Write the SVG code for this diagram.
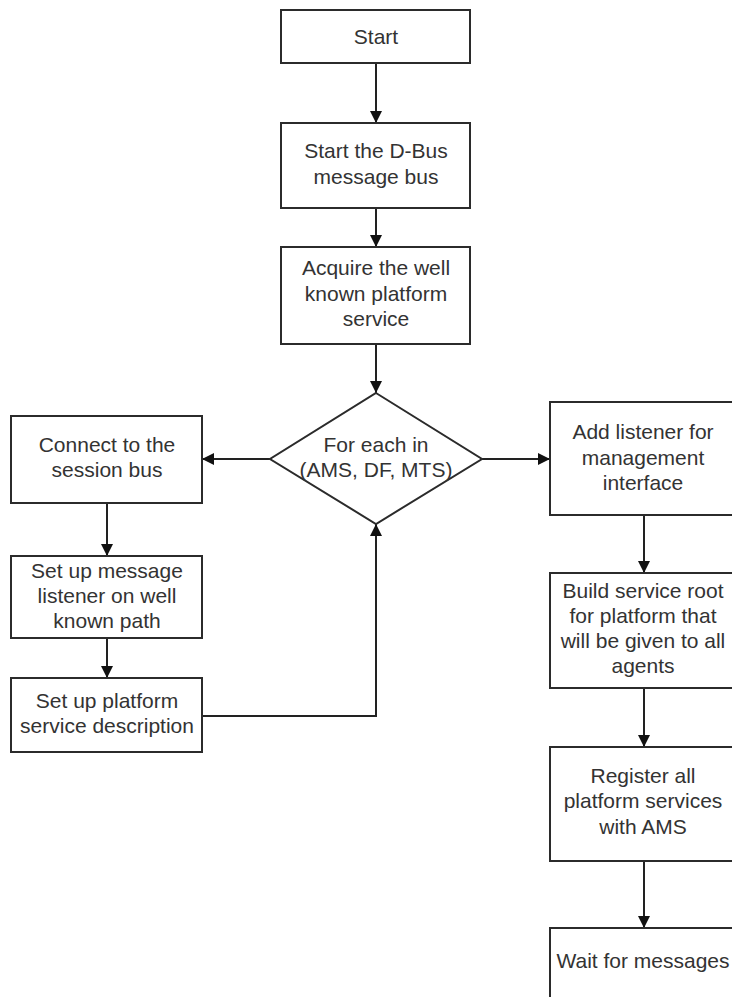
<svg xmlns="http://www.w3.org/2000/svg" width="732" height="997" viewBox="0 0 732 997">
  <style>
    .box { fill: #ffffff; stroke: #2b2b2b; stroke-width: 2; }
    .lbl { font-family: "Liberation Sans", Arial, sans-serif; font-size: 21px; fill: #333333; text-anchor: middle; }
    .edge { fill: none; stroke: #222222; stroke-width: 2; }
  </style>
  <defs>
    <marker id="arrow" markerUnits="userSpaceOnUse" markerWidth="13" markerHeight="13" refX="12" refY="6" orient="auto">
      <path d="M0,0 L12,6 L0,12 Z" fill="#111111"/>
    </marker>
  </defs>
  <rect width="732" height="997" fill="#ffffff"/>

  <g id="connectors">
    <path class="edge" d="M376,63 L376,123" marker-end="url(#arrow)"/>
    <path class="edge" d="M376,208 L376,247" marker-end="url(#arrow)"/>
    <path class="edge" d="M376,344 L376,393" marker-end="url(#arrow)"/>
    <path class="edge" d="M270,459 L202,459" marker-end="url(#arrow)"/>
    <path class="edge" d="M482,459 L550,459" marker-end="url(#arrow)"/>
    <path class="edge" d="M107,503 L107,556" marker-end="url(#arrow)"/>
    <path class="edge" d="M107,638 L107,678" marker-end="url(#arrow)"/>
    <path class="edge" d="M202,716 L376,716 L376,524" marker-end="url(#arrow)"/>
    <path class="edge" d="M644,515 L644,573" marker-end="url(#arrow)"/>
    <path class="edge" d="M644,688 L644,747" marker-end="url(#arrow)"/>
    <path class="edge" d="M644,861 L644,928" marker-end="url(#arrow)"/>
  </g>

  <g id="start">
    <rect class="box" x="281" y="10" width="189" height="53"/>
    <text class="lbl" x="376" y="44">Start</text>
  </g>

  <g id="start-dbus">
    <rect class="box" x="281" y="123" width="189" height="85"/>
    <text class="lbl" x="376" y="158">Start the D-Bus</text>
    <text class="lbl" x="376" y="184">message bus</text>
  </g>

  <g id="acquire-service">
    <rect class="box" x="281" y="247" width="189" height="97"/>
    <text class="lbl" x="376" y="275">Acquire the well</text>
    <text class="lbl" x="376" y="301">known platform</text>
    <text class="lbl" x="376" y="326">service</text>
  </g>

  <g id="for-each">
    <polygon class="box" points="376,393 482,459 376,524 270,459"/>
    <text class="lbl" x="376" y="452">For each in</text>
    <text class="lbl" x="376" y="477">(AMS, DF, MTS)</text>
  </g>

  <g id="connect-session">
    <rect class="box" x="11" y="416" width="191" height="87"/>
    <text class="lbl" x="107" y="452">Connect to the</text>
    <text class="lbl" x="107" y="477">session bus</text>
  </g>

  <g id="message-listener">
    <rect class="box" x="11" y="556" width="191" height="82"/>
    <text class="lbl" x="107" y="578">Set up message</text>
    <text class="lbl" x="107" y="603">listener on well</text>
    <text class="lbl" x="107" y="628">known path</text>
  </g>

  <g id="service-description">
    <rect class="box" x="11" y="678" width="191" height="74"/>
    <text class="lbl" x="107" y="708">Set up platform</text>
    <text class="lbl" x="107" y="733">service description</text>
  </g>

  <g id="management-listener">
    <rect class="box" x="550" y="402" width="187" height="113"/>
    <text class="lbl" x="643" y="439">Add listener for</text>
    <text class="lbl" x="643" y="465">management</text>
    <text class="lbl" x="643" y="490">interface</text>
  </g>

  <g id="service-root">
    <rect class="box" x="550" y="573" width="187" height="115"/>
    <text class="lbl" x="643" y="598">Build service root</text>
    <text class="lbl" x="643" y="623">for platform that</text>
    <text class="lbl" x="643" y="648">will be given to all</text>
    <text class="lbl" x="643" y="673">agents</text>
  </g>

  <g id="register-services">
    <rect class="box" x="550" y="747" width="187" height="114"/>
    <text class="lbl" x="643" y="783">Register all</text>
    <text class="lbl" x="643" y="808">platform services</text>
    <text class="lbl" x="643" y="834">with AMS</text>
  </g>

  <g id="wait-messages">
    <rect class="box" x="550" y="928" width="187" height="90"/>
    <text class="lbl" x="643" y="968">Wait for messages</text>
  </g>
</svg>
